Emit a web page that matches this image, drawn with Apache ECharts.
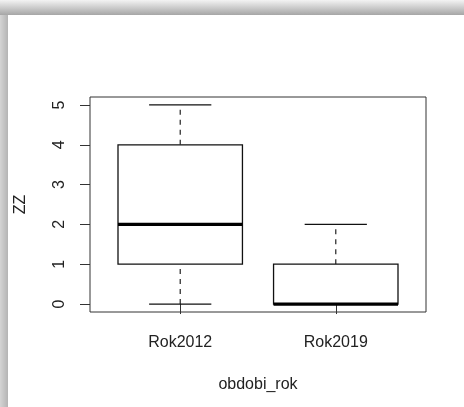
<!DOCTYPE html>
<html>
<head>
<meta charset="utf-8">
<script src="https://cdn.jsdelivr.net/npm/echarts@6/dist/echarts.min.js"></script>
<style>
  html, body { margin: 0; padding: 0; background: #ffffff; }
  #chart { width: 464px; height: 407px; }
</style>
</head>
<body>
<div id="chart"></div>
<script>
// Five-number summaries of ZZ for each period
const categories = ['Rok2012', 'Rok2019'];
const minValues = [0, 0];
const q1Values = [1, 0];
const medianValues = [2, 0];
const q3Values = [4, 1];
const maxValues = [5, 2];
const yTicks = [0, 1, 2, 3, 4, 5];
const xTicks = [1, 2];

const FONT = "'Liberation Sans', Arial, Helvetica, sans-serif";
const TEXT = '#222';

const boxData = categories.map((c, i) => [
  i + 1, minValues[i], q1Values[i], medianValues[i], q3Values[i], maxValues[i]
]);

function renderBox(params, api) {
  const x = api.value(0);
  const pMin = api.coord([x, api.value(1)]);
  const pQ1 = api.coord([x, api.value(2)]);
  const pMed = api.coord([x, api.value(3)]);
  const pQ3 = api.coord([x, api.value(4)]);
  const pMax = api.coord([x, api.value(5)]);
  const half = api.size([0.4, 0])[0];
  const cap = half / 2;
  const cx = pMed[0];
  const dashed = { stroke: '#222', lineWidth: 1.2, lineDash: [5, 5] };
  const solid = { stroke: '#111', lineWidth: 1.3 };
  return {
    type: 'group',
    children: [
      { type: 'line', shape: { x1: cx, y1: pQ3[1], x2: cx, y2: pMax[1] }, style: dashed },
      { type: 'line', shape: { x1: cx, y1: pMin[1], x2: cx, y2: pQ1[1] }, style: dashed },
      { type: 'line', shape: { x1: cx - cap, y1: pMax[1], x2: cx + cap, y2: pMax[1] }, style: solid },
      { type: 'line', shape: { x1: cx - cap, y1: pMin[1], x2: cx + cap, y2: pMin[1] }, style: solid },
      { type: 'rect', shape: { x: cx - half, y: pQ3[1], width: half * 2, height: pQ1[1] - pQ3[1] },
        style: { fill: '#fff', stroke: '#111', lineWidth: 1.3 } },
      { type: 'line', shape: { x1: cx - half, y1: pMed[1], x2: cx + half, y2: pMed[1] },
        style: { stroke: '#000', lineWidth: 3.2 } }
    ]
  };
}

const chart = echarts.init(document.getElementById('chart'), null, { renderer: 'canvas' });
chart.setOption({
  backgroundColor: '#ffffff',
  animation: false,
  graphic: [
    { type: 'rect', left: 0, top: 0, shape: { width: 464, height: 15 }, silent: true,
      style: { fill: new echarts.graphic.LinearGradient(0, 0, 0, 1, [
        { offset: 0, color: '#f3f3f3' }, { offset: 1, color: '#a6a6a6' }]) } },
    { type: 'rect', left: 0, top: 15, shape: { width: 8, height: 392 }, silent: true,
      style: { fill: new echarts.graphic.LinearGradient(0, 0, 1, 0, [
        { offset: 0, color: '#d4d4d4' }, { offset: 1, color: '#b4b4b4' }]) } }
  ],
  grid: {
    left: 90, right: 38, top: 97, bottom: 95,
    show: true, borderColor: '#333', borderWidth: 1, backgroundColor: 'transparent'
  },
  xAxis: {
    type: 'value', min: 0.42, max: 2.58,
    axisLine: { show: false },
    splitLine: { show: false },
    axisTick: { show: true, customValues: xTicks, length: 10, lineStyle: { color: '#333' } },
    axisLabel: {
      customValues: xTicks, margin: 23, fontSize: 16, color: TEXT, fontFamily: FONT,
      formatter: v => categories[Math.round(v) - 1] || ''
    },
    name: 'obdobi_rok', nameLocation: 'middle', nameGap: 65,
    nameTextStyle: { fontSize: 16, color: TEXT, fontFamily: FONT }
  },
  yAxis: {
    type: 'value', min: -0.2, max: 5.2,
    axisLine: { show: false },
    splitLine: { show: false },
    axisTick: { show: true, customValues: yTicks, length: 10, lineStyle: { color: '#333' } },
    axisLabel: {
      customValues: yTicks, rotate: 90, margin: 22, fontSize: 16, color: TEXT, fontFamily: FONT
    },
    name: 'ZZ', nameLocation: 'middle', nameRotate: 90, nameGap: 61,
    nameTextStyle: { fontSize: 16, color: TEXT, fontFamily: FONT }
  },
  series: [{
    type: 'custom',
    renderItem: renderBox,
    data: boxData,
    encode: { x: 0, y: [1, 2, 3, 4, 5] },
    clip: false
  }]
});
</script>
</body>
</html>
